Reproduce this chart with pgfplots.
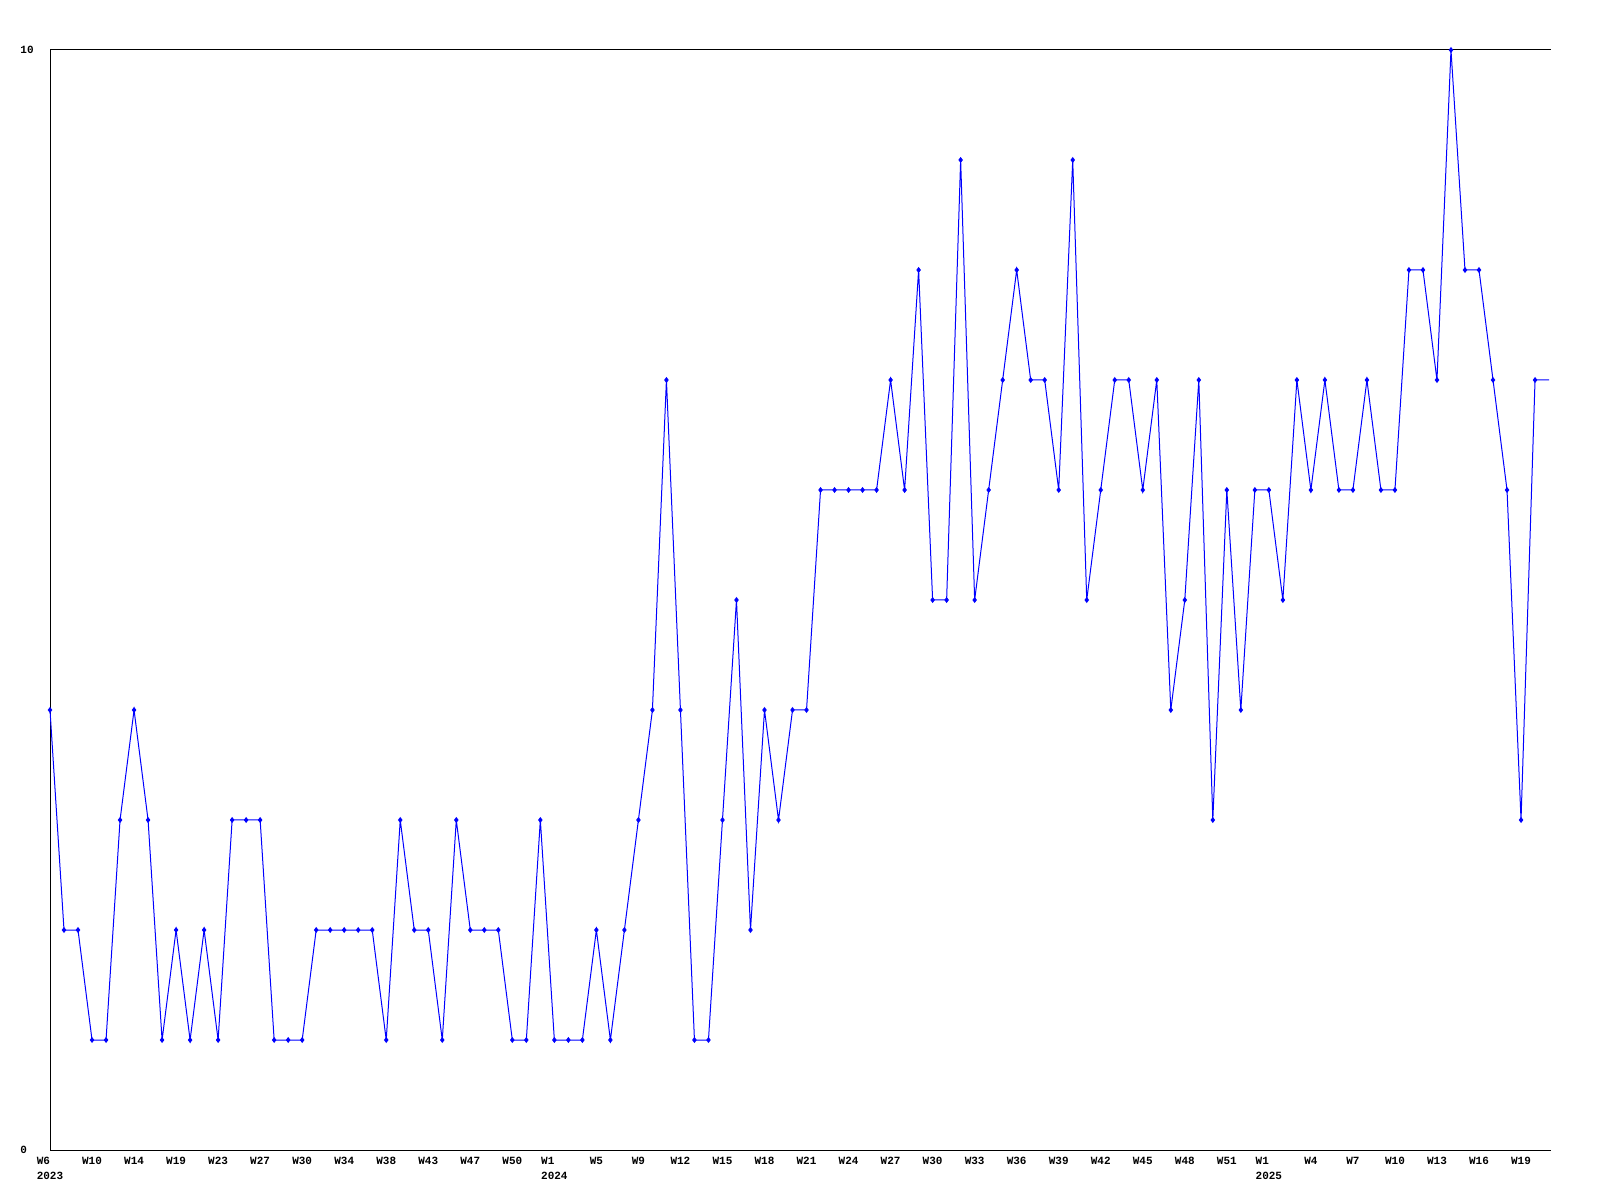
\documentclass[border=0pt]{standalone}
\usepackage{pgfplots}
\pgfplotsset{compat=1.18}
\usepackage{fontspec}
\setmonofont{Liberation Mono}
\begin{document}
\begin{tikzpicture}[x=1pt,y=1pt]
\path[use as bounding box] (0,0) rectangle (800,600);
\begin{axis}[
  at={(25pt,25pt)}, anchor=south west,
  scale only axis, width=750.5pt, height=550pt,
  xmin=0, xmax=107.14, ymin=0, ymax=10,
  clip=false,
  axis x line=box, axis y line=left,
  axis line style={-, black, line width=0.5pt},
  major tick length=0pt,
  xtick={0,3,...,105},
  xticklabels={{W6\\2023},W10,W14,W19,W23,W27,W30,W34,W38,W43,W47,W50,{W1\\2024},W5,W9,W12,W15,W18,W21,W24,W27,W30,W33,W36,W39,W42,W45,W48,W51,{W1\\2025},W4,W7,W10,W13,W16,W19},
  xticklabel pos=lower,
  xticklabel style={anchor=north, align=left, inner sep=0pt, yshift=-3.5pt},
  ytick={0,10}, yticklabels={0,10},
  yticklabel pos=left,
  yticklabel style={anchor=west, inner sep=0pt, xshift=-15pt},
  ticklabel style={font=\ttfamily\bfseries\fontsize{5.5}{7.5}\selectfont},
]
\addplot[color={rgb,255:red,0;green,0;blue,255}, line width=0.5pt, mark=diamond*, mark size=1.1pt,
  mark indices={1,...,107}] coordinates {
(0,4)(1,2)(2,2)(3,1)(4,1)(5,3)(6,4)(7,3)(8,1)(9,2)
(10,1)(11,2)(12,1)(13,3)(14,3)(15,3)(16,1)(17,1)(18,1)(19,2)
(20,2)(21,2)(22,2)(23,2)(24,1)(25,3)(26,2)(27,2)(28,1)(29,3)
(30,2)(31,2)(32,2)(33,1)(34,1)(35,3)(36,1)(37,1)(38,1)(39,2)
(40,1)(41,2)(42,3)(43,4)(44,7)(45,4)(46,1)(47,1)(48,3)(49,5)
(50,2)(51,4)(52,3)(53,4)(54,4)(55,6)(56,6)(57,6)(58,6)(59,6)
(60,7)(61,6)(62,8)(63,5)(64,5)(65,9)(66,5)(67,6)(68,7)(69,8)
(70,7)(71,7)(72,6)(73,9)(74,5)(75,6)(76,7)(77,7)(78,6)(79,7)
(80,4)(81,5)(82,7)(83,3)(84,6)(85,4)(86,6)(87,6)(88,5)(89,7)
(90,6)(91,7)(92,6)(93,6)(94,7)(95,6)(96,6)(97,8)(98,8)(99,7)
(100,10)(101,8)(102,8)(103,7)(104,6)(105,3)(106,7)(107,7)
};
\end{axis}
\end{tikzpicture}
\end{document}
